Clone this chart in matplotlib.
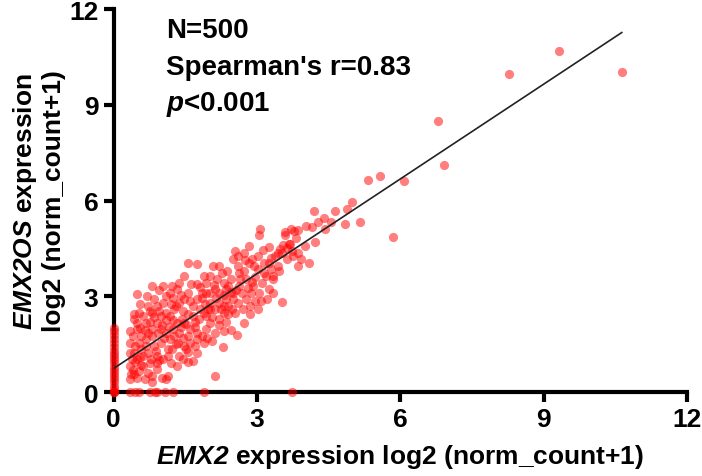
import numpy as np
import matplotlib
matplotlib.use('Agg')
import matplotlib.pyplot as plt

plt.rcParams['font.family'] = ['Liberation Sans', 'DejaVu Sans']
plt.rcParams['font.weight'] = 'bold'
plt.rcParams['axes.labelweight'] = 'bold'
plt.rcParams['mathtext.fontset'] = 'custom'
plt.rcParams['mathtext.rm'] = 'Liberation Sans:bold'
plt.rcParams['mathtext.it'] = 'Liberation Sans:italic:bold'
plt.rcParams['mathtext.bf'] = 'Liberation Sans:bold'
# italic incl. digits (gene names)
plt.rcParams['mathtext.sf'] = 'Liberation Sans:italic:bold'

# samples with EMX2 = 0 (vertical strip on the y axis)
zero_x_y = [0, 0, 0, 0.1, 0.2, 0.3, 0.4, 0.5, 0.6, 0.7, 0.8, 0.9, 1.0, 1.1,
            1.2, 1.3, 1.4, 1.55, 1.65, 1.8, 1.9, 2.0]
# samples with EMX2OS = 0 (row on the x axis)
zero_y_x = [0.34, 0.45, 0.53, 0.76, 0.87, 0.91, 1.07, 1.24, 1.89, 3.74]

# remaining samples as (EMX2, EMX2OS)
cloud = [
    # 0.3 - 0.6
    (0.34, 0.40), (0.36, 0.55), (0.43, 0.55), (0.34, 0.82), (0.40, 0.70), (0.52, 0.66),
    (0.48, 0.45), (0.34, 1.23), (0.43, 1.23), (0.48, 1.02), (0.38, 1.05), (0.34, 1.55),
    (0.45, 1.45), (0.52, 1.55), (0.57, 1.34), (0.34, 1.91), (0.48, 1.96), (0.40, 1.75),
    (0.57, 1.76), (0.43, 2.28), (0.43, 2.43), (0.52, 2.49), (0.48, 2.15), (0.55, 2.00),
    (0.48, 3.06), (0.55, 2.75), (0.58, 0.85), (0.55, 1.10), (0.45, 0.95),
    # 0.6 - 1.0
    (0.62, 0.82), (0.71, 0.61), (0.66, 0.40), (0.76, 0.92), (0.81, 0.50), (0.90, 0.71),
    (0.62, 1.13), (0.71, 1.23), (0.90, 1.13), (0.67, 1.65), (0.85, 1.44), (0.99, 1.55),
    (0.71, 1.86), (0.81, 1.76), (0.81, 1.96), (0.99, 1.96), (0.67, 2.17), (0.62, 2.38),
    (0.90, 2.17), (0.81, 2.49), (0.99, 2.38), (0.90, 2.70), (0.71, 2.70), (0.85, 2.90),
    (0.81, 3.32), (0.95, 3.20), (0.76, 2.20), (0.88, 1.30), (0.95, 1.00), (0.68, 1.45),
    (0.78, 1.05), (0.92, 1.85), (0.65, 1.95), (0.85, 2.35), (0.75, 2.55), (0.95, 2.55),
    (0.70, 3.00), (0.90, 0.92), (1.00, 0.45), (0.80, 0.30),
    # 1.0 - 1.5
    (1.09, 0.40), (1.13, 0.50), (1.04, 1.02), (1.13, 1.13), (1.13, 1.34), (1.22, 1.34),
    (1.18, 1.65), (1.27, 1.76), (1.09, 1.86), (1.23, 1.96), (1.32, 0.82), (1.37, 1.13),
    (1.46, 1.44), (1.51, 1.34), (1.37, 1.86), (1.32, 2.17), (1.42, 2.28), (1.09, 2.49),
    (1.18, 2.38), (1.27, 2.59), (1.04, 2.80), (1.37, 2.80), (1.46, 2.90), (1.09, 3.01),
    (1.18, 3.11), (1.21, 3.32), (1.04, 3.32), (1.32, 3.22), (1.37, 3.43), (1.46, 3.64),
    (1.15, 2.05), (1.25, 2.25), (1.40, 2.05), (1.45, 2.55), (1.30, 1.50), (1.45, 1.70),
    (1.05, 1.70), (1.20, 0.90), (1.35, 1.55), (1.25, 2.95), (1.40, 3.05), (1.10, 2.25),
    (1.30, 2.70), (1.48, 2.15), (1.20, 2.75), (1.45, 1.05), (1.00, 2.10),
    # 1.5 - 2.0
    (1.65, 0.97), (1.51, 2.12), (1.56, 1.76), (1.60, 1.55), (1.60, 1.96), (1.74, 1.23),
    (1.74, 1.65), (1.84, 1.76), (1.88, 1.55), (1.93, 1.96), (1.65, 2.38), (1.65, 2.70),
    (1.79, 2.28), (1.93, 2.38), (1.88, 2.49), (1.74, 2.90), (1.56, 3.11), (1.84, 3.11),
    (1.93, 3.11), (1.74, 3.37), (1.93, 3.43), (1.88, 3.64), (1.55, 4.05), (1.74, 4.00),
    (1.70, 2.05), (1.80, 2.60), (1.55, 2.45), (1.70, 2.20), (1.90, 2.75), (1.60, 2.85),
    (1.85, 2.95), (1.98, 2.60), (1.55, 1.25), (1.75, 1.85), (1.95, 1.70), (1.62, 3.40),
    (1.80, 3.30), (1.70, 1.45), (1.55, 0.95),
    # 2.0 - 2.5
    (2.12, 0.50), (2.29, 1.41), (2.02, 2.17), (2.12, 1.86), (2.21, 2.28), (2.31, 2.49),
    (2.40, 2.70), (2.45, 1.93), (2.02, 2.59), (2.12, 2.59), (2.21, 2.80), (2.02, 2.80),
    (2.31, 2.70), (2.35, 2.90), (2.49, 2.90), (2.02, 3.11), (2.12, 3.22), (2.21, 3.11),
    (2.35, 3.22), (2.49, 3.11), (2.40, 3.32), (2.31, 3.43), (2.16, 3.53), (2.45, 3.53),
    (2.02, 3.64), (2.26, 3.74), (2.07, 3.95), (2.21, 3.95), (2.49, 4.16), (2.05, 2.35),
    (2.25, 2.60), (2.40, 2.45), (2.15, 2.95), (2.30, 3.05), (2.45, 3.15), (2.10, 3.35),
    (2.38, 3.80), (2.20, 2.10), (2.35, 2.20), (2.48, 2.60), (2.05, 1.60), (2.30, 1.90),
    # 2.5 - 3.0
    (2.57, 1.80), (2.73, 2.17), (2.54, 2.49), (2.77, 2.90), (2.68, 3.11), (2.87, 3.11),
    (2.63, 3.32), (2.92, 3.32), (2.77, 3.53), (2.73, 3.79), (2.63, 3.74), (2.59, 3.95),
    (2.94, 3.95), (2.82, 4.05), (2.90, 4.16), (2.54, 4.42), (2.73, 4.37), (2.82, 4.58),
    (2.60, 2.80), (2.70, 2.60), (2.85, 2.70), (2.95, 2.85), (2.65, 3.55), (2.80, 3.25),
    (2.95, 3.60), (2.55, 3.20), (2.75, 4.15), (2.60, 4.25), (2.90, 3.45), (2.85, 2.45),
    # 3.0 - 3.5
    (3.01, 2.59), (3.08, 2.85), (3.20, 2.90), (3.24, 3.22), (3.34, 3.11), (3.10, 3.43),
    (3.34, 3.53), (3.19, 3.64), (3.34, 3.64), (3.15, 3.74), (3.29, 3.85), (3.01, 3.85),
    (3.43, 3.95), (3.24, 4.05), (3.01, 4.26), (3.37, 4.26), (3.29, 4.21), (3.43, 4.37),
    (3.48, 4.47), (3.06, 5.10), (3.03, 4.92), (3.05, 3.10), (3.15, 4.05), (3.45, 3.80),
    (3.12, 4.45), (3.25, 4.55),
    # 3.5 - 4.0
    (3.53, 2.83), (3.52, 4.37), (3.62, 4.16), (3.62, 4.52), (3.69, 4.63), (3.73, 4.42),
    (3.76, 4.26), (3.85, 4.37), (3.86, 3.95), (3.91, 4.18), (3.58, 5.00), (3.59, 4.91),
    (3.71, 5.11), (3.78, 5.03), (3.81, 4.84), (3.85, 5.09), (3.66, 4.65), (3.54, 4.60),
    # 4.0 and up
    (4.00, 4.58), (4.09, 4.05), (4.02, 5.21), (4.15, 5.16), (4.21, 4.69), (4.18, 5.66),
    (4.27, 5.34), (4.41, 5.45), (4.43, 5.11), (4.55, 5.32), (4.63, 5.66), (4.84, 5.27),
    (4.89, 5.74), (4.98, 5.94), (5.16, 5.32), (5.31, 6.65), (5.58, 6.77), (6.07, 6.60),
    (5.84, 4.86), (6.79, 8.48), (6.92, 7.12), (8.27, 9.96), (9.32, 10.67), (10.63, 10.02),
]

emx2 = np.array([0.0] * len(zero_x_y) + zero_y_x + [p[0] for p in cloud])
emx2os = np.array(zero_x_y + [0.0] * len(zero_y_x) + [p[1] for p in cloud])

# fitted line as drawn in the figure
fit_slope = 0.99
fit_intercept = 0.74

ticks = [0, 3, 6, 9, 12]

fig = plt.figure(figsize=(7.02, 4.77), dpi=100)
ax = fig.add_axes([0.162, 0.176, 0.817, 0.803])

ax.scatter(emx2, emx2os, s=44, color='#ff0000', alpha=0.5, linewidths=0,
           zorder=3, clip_on=False)

xfit = np.array([0, emx2.max()])
ax.plot(xfit, fit_intercept + fit_slope * xfit, color='#222222', lw=1.2, zorder=4)

ax.set_xlim(0, 12)
ax.set_ylim(0, 12)
ax.set_xticks(ticks)
ax.set_yticks(ticks)
for s in ['top', 'right']:
    ax.spines[s].set_visible(False)
for s in ['left', 'bottom']:
    ax.spines[s].set_linewidth(3)
ax.tick_params(width=3, length=7, labelsize=19, pad=4)

ax.set_xlabel(r'$\mathsf{EMX2}$ expression log2 (norm_count+1)', fontsize=19, labelpad=8)
ax.set_ylabel(r'$\mathsf{EMX2OS}$ expression' + '\n' + 'log2 (norm_count+1)', fontsize=19,
              labelpad=2)

ax.text(1.1, 11.33, 'N=500', fontsize=20, va='center')
ax.text(1.1, 10.18, "Spearman's r=0.83", fontsize=20, va='center')
ax.text(1.1, 9.03, r'$\mathit{p}$<0.001', fontsize=20, va='center')

fig.savefig('out.png', dpi=100)
